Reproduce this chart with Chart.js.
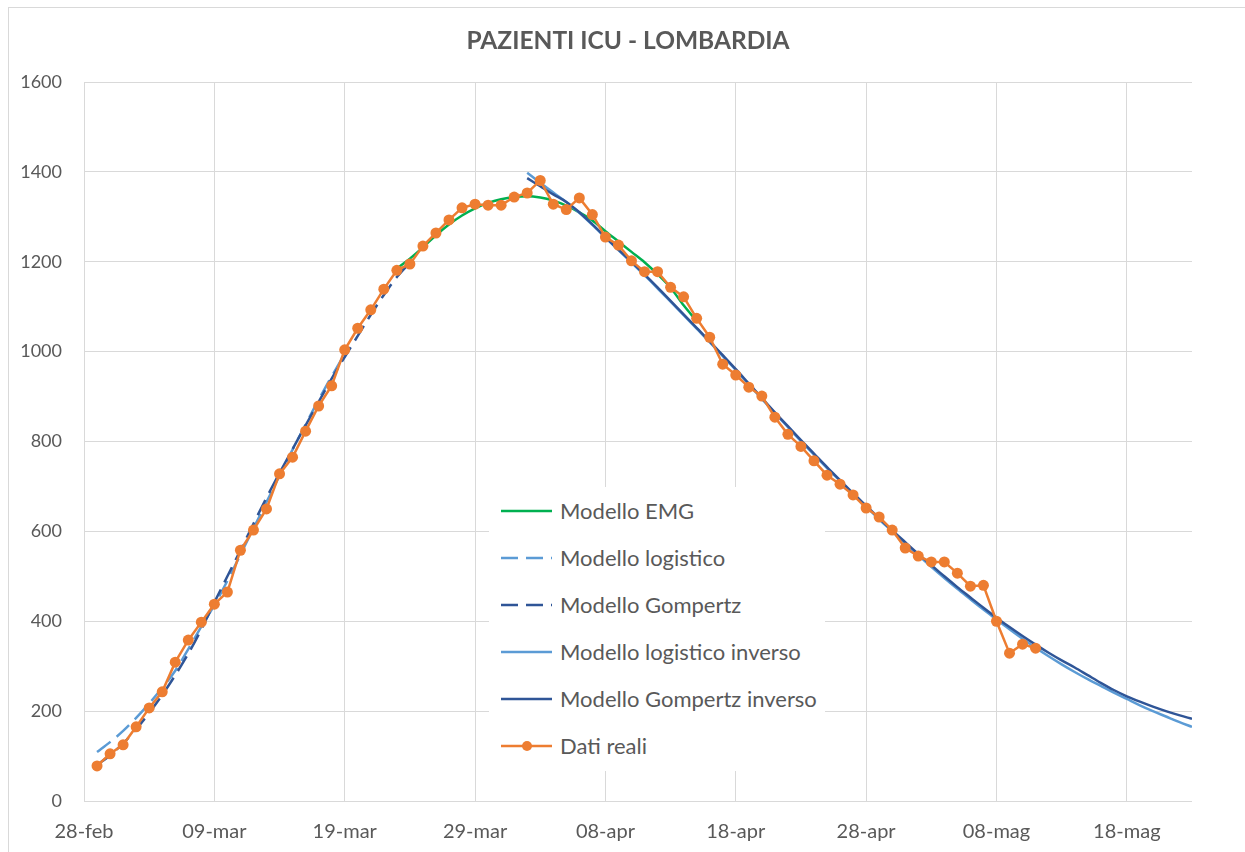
<!DOCTYPE html>
<html>
<head>
<meta charset="utf-8">
<script src="https://cdn.jsdelivr.net/npm/chart.js@4"></script>
<style>
  html, body { margin: 0; padding: 0; background: #fff; overflow: hidden; }
  #frame { position: absolute; left: 8px; top: 7px; width: 1300px; height: 900px;
           border-left: 1px solid #d9d9d9; border-top: 1px solid #d9d9d9; }
  #chart { position: absolute; left: 0; top: 0; }
  #title { position: absolute; left: 0; top: 25px; width: 1256px; text-align: center;
           font-family: Lato, 'Noto Sans', sans-serif; font-weight: bold; font-size: 24.5px;
           line-height: 30px; color: #595959; }
  #legend { position: absolute; left: 489px; top: 487px; width: 336px; height: 284px;
            background: #fff; font-family: Lato, 'Noto Sans', sans-serif; font-size: 22px; color: #595959; }
  #legend .row { height: 47px; display: flex; align-items: center; }
  #legend svg { margin-left: 11px; margin-right: 7px; }
</style>
</head>
<body>
<div id="frame"></div>
<canvas id="chart" width="1245" height="852"></canvas>
<div id="title">PAZIENTI ICU - LOMBARDIA</div>
<div id="legend"></div>
<script>
// Pazienti ICU Lombardia - dati reali e modelli
// giorno 0 = 28-feb (2020), un punto per giorno

const xTickLabels = ['28-feb', '09-mar', '19-mar', '29-mar', '08-apr', '18-apr', '28-apr', '08-mag', '18-mag'];

const realStartDay = 1;
const realValues = [78, 105, 125, 165, 207, 243, 309, 358, 398, 438, 465, 558, 603, 650, 728, 765, 823, 879, 924, 1004,
  1052, 1093, 1139, 1181, 1195, 1235, 1264, 1293, 1320, 1328, 1326, 1326, 1344, 1353, 1381, 1328, 1316, 1342, 1305, 1255,
  1237, 1202, 1178, 1178, 1143, 1122, 1074, 1032, 972, 948, 921, 901, 854, 816, 789, 757, 725, 705, 681, 652,
  632, 603, 563, 545, 532, 532, 507, 478, 480, 400, 329, 349, 340];

const emgStartDay = 24;
const emgValues = [1185, 1207, 1232, 1259, 1283, 1303, 1319, 1331, 1339, 1344, 1346, 1343, 1336, 1325, 1310, 1292,
  1268, 1245, 1222, 1199, 1172, 1142, 1103, 1068];

const logStartDay = 1;
const logValues = [109, 131, 156, 185, 217, 252, 290, 338, 388, 436, 490, 548, 607, 665, 724, 782, 838, 893, 945, 995];

const gompStartDay = 1;
const gompValues = [80, 102, 128, 160, 196, 236, 280, 328, 382, 442, 500, 558, 617, 675, 730, 783, 836, 888, 940, 988,
  1035, 1082, 1126, 1166, 1198];

const invStartDay = 34;
const logInvValues = [1398, 1376, 1354, 1333, 1309, 1282, 1254, 1226, 1198, 1170, 1141, 1111, 1081, 1051, 1021, 990,
  959, 927, 895, 863, 832, 801, 771, 741, 712, 683, 655, 627, 600, 573, 547, 521, 496, 472, 449, 426,
  404, 382, 361, 341, 322, 304, 287, 271, 256, 241, 227, 213, 200, 188, 176, 165];
const gompInvValues = [1386, 1368, 1350, 1333, 1310, 1283, 1255, 1227, 1200, 1172, 1143, 1113, 1083, 1053, 1023, 992,
  961, 929, 897, 865, 834, 803, 773, 743, 714, 685, 657, 629, 602, 576, 550, 525, 500, 476, 453, 430,
  408, 387, 367, 348, 330, 313, 297, 280, 263, 247, 233, 221, 210, 200, 191, 183];

const toPoints = (start, vals) => vals.map((v, i) => ({ x: start + i, y: v }));

const GREEN = '#00B050';
const LIGHT = '#5B9BD5';
const DARK = '#2F5597';
const ORANGE = '#ED7D31';
const TEXT = '#595959';
const FONT = 'Lato';

const modelLine = (label, data, color, dash, order) => ({
  label, data, borderColor: color, backgroundColor: color, borderWidth: 2.5,
  borderDash: dash, pointRadius: 0, cubicInterpolationMode: 'monotone', order
});

const datasets = [
  modelLine('Modello EMG', toPoints(emgStartDay, emgValues), GREEN, [], 5),
  modelLine('Modello logistico', toPoints(logStartDay, logValues), LIGHT, [17, 8], 4),
  modelLine('Modello Gompertz', toPoints(gompStartDay, gompValues), DARK, [17, 8], 3),
  modelLine('Modello logistico inverso', toPoints(invStartDay, logInvValues), LIGHT, [], 2),
  modelLine('Modello Gompertz inverso', toPoints(invStartDay, gompInvValues), DARK, [], 1),
  {
    label: 'Dati reali', data: toPoints(realStartDay, realValues),
    borderColor: ORANGE, backgroundColor: ORANGE, borderWidth: 2.5,
    pointRadius: 5.5, pointBorderWidth: 0, pointHoverRadius: 5.5, order: 0
  }
];

new Chart(document.getElementById('chart'), {
  type: 'line',
  data: { datasets },
  options: {
    responsive: false,
    animation: false,
    layout: { padding: { left: 0, right: 53, top: 82, bottom: 0 } },
    plugins: {
      legend: { display: false },
      tooltip: { enabled: false }
    },
    scales: {
      x: {
        type: 'linear',
        min: 0,
        max: 85,
        grid: { color: '#d9d9d9', lineWidth: 1, drawTicks: false },
        border: { display: false },
        ticks: {
          stepSize: 10,
          includeBounds: false,
          padding: 19,
          maxRotation: 0,
          color: TEXT,
          font: { family: FONT, size: 20 },
          callback: v => xTickLabels[v / 10]
        },
        afterFit: s => { s.height = 51; }
      },
      y: {
        min: 0,
        max: 1600,
        grid: { color: '#d9d9d9', lineWidth: 1, drawTicks: false },
        border: { display: false },
        ticks: {
          stepSize: 200,
          padding: 22,
          color: TEXT,
          font: { family: FONT, size: 18 },
          callback: v => String(v)
        },
        afterFit: s => { s.width = 84; }
      }
    }
  }
});

// legenda dentro l'area del grafico
const legendItems = [
  { label: 'Modello EMG', color: GREEN, dash: '' },
  { label: 'Modello logistico', color: LIGHT, dash: '17 8' },
  { label: 'Modello Gompertz', color: DARK, dash: '17 8' },
  { label: 'Modello logistico inverso', color: LIGHT, dash: '' },
  { label: 'Modello Gompertz inverso', color: DARK, dash: '' },
  { label: 'Dati reali', color: ORANGE, dash: '', dot: true }
];
const legend = document.getElementById('legend');
legendItems.forEach(it => {
  const row = document.createElement('div');
  row.className = 'row';
  row.innerHTML =
    '<svg width="53" height="12"><line x1="1" y1="6" x2="52" y2="6" stroke="' + it.color +
    '" stroke-width="2.5"' + (it.dash ? ' stroke-dasharray="' + it.dash + '"' : '') + '/>' +
    (it.dot ? '<circle cx="27" cy="6" r="5" fill="' + it.color + '"/>' : '') +
    '</svg><span>' + it.label + '</span>';
  legend.appendChild(row);
});
</script>
</body>
</html>
